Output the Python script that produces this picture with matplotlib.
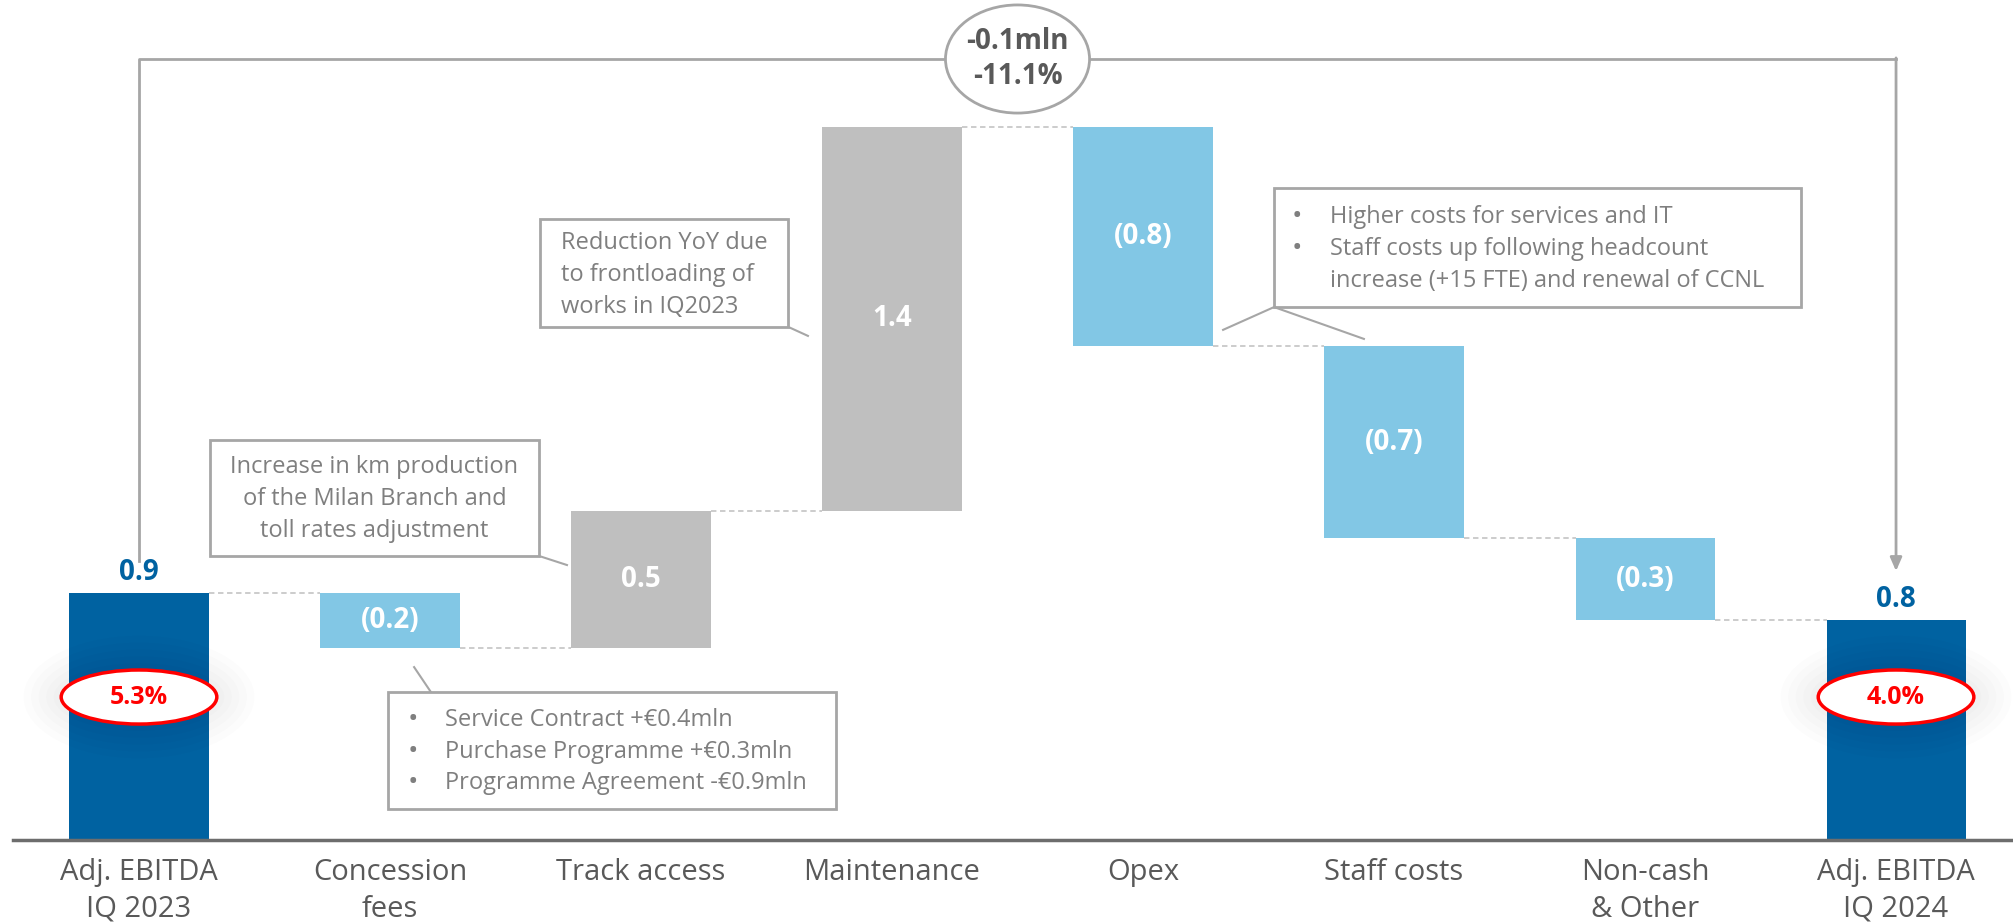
import matplotlib
matplotlib.use("Agg")
import matplotlib.pyplot as plt
from matplotlib.patches import Ellipse, Rectangle

plt.rcParams['font.family'] = ['Open Sans', 'DejaVu Sans']

# data
categories = ["Adj. EBITDA\nIQ 2023", "Concession\nfees", "Track access", "Maintenance",
              "Opex", "Staff costs", "Non-cash\n& Other", "Adj. EBITDA\nIQ 2024"]
start_value = 0.9
deltas = [-0.2, 0.5, 1.4, -0.8, -0.7, -0.3]
end_value = 0.8
margins = ["5.3%", "4.0%"]
change_text = "-0.1mln\n-11.1%"

DARK_BLUE = "#0062a1"
LIGHT_BLUE = "#82c7e5"
GREY = "#bfbfbf"
LINE_GREY = "#a6a6a6"
TEXT_GREY = "#7f7f7f"
LABEL_GREY = "#595959"

W, H = 2013, 922
fig = plt.figure(figsize=(W / 100, H / 100), dpi=100)
ax = fig.add_axes([13 / W, 82 / H, 2000 / W, 840 / H])
ax.set_xlim(-0.502, 7.466)
ax.set_ylim(0, 3.061)
for s in ["top", "right", "left"]:
    ax.spines[s].set_visible(False)
ax.spines["bottom"].set_color("#6d6d6d")
ax.spines["bottom"].set_linewidth(2.5)
ax.set_yticks([])
ax.set_xticks(range(len(categories)))
ax.set_xticklabels(categories, fontsize=21, color=LABEL_GREY, linespacing=1.35)
ax.tick_params(axis="x", length=0, pad=13)

bw = 0.554

# bars
levels = [start_value]
ax.bar(0, start_value, width=bw, color=DARK_BLUE)
running = start_value
for i, d in enumerate(deltas, start=1):
    bottom = running if d > 0 else running + d
    col = GREY if d > 0 else LIGHT_BLUE
    ax.bar(i, abs(d), bottom=bottom, width=bw, color=col)
    txt = f"{d:.1f}" if d > 0 else f"({abs(d):.1f})"
    ax.text(i, bottom + abs(d) / 2, txt, ha="center", va="center", color="white",
            fontsize=20, fontweight="bold")
    running += d
    levels.append(running)
n = len(categories) - 1
ax.bar(n, end_value, width=bw, color=DARK_BLUE)
levels.append(end_value)

# connectors
for i in range(n):
    ax.plot([i + bw / 2, i + 1 - bw / 2], [levels[i], levels[i]], color="#c8c8c8",
            lw=1.3, ls=(0, (3, 2)), zorder=1)

# totals above
for i, v in [(0, start_value), (n, end_value)]:
    ax.text(i, v + 0.075, f"{v:.1f}", ha="center", va="center", color=DARK_BLUE,
            fontsize=20, fontweight="bold")

# margin ellipses
for i, m in zip([0, n], margins):
    for k in range(6):
        ax.add_patch(Ellipse((i, 0.521), 0.62 + 0.06 * k, 0.197 + 0.05 * k,
                             facecolor="#000000", alpha=0.01, lw=0, zorder=3))
    ax.add_patch(Ellipse((i, 0.521), 0.62, 0.197, facecolor="white",
                         edgecolor="#ff0000", lw=2.5, zorder=4))
    ax.text(i, 0.521, m, ha="center", va="center", color="#ff0000",
            fontsize=18, fontweight="bold", zorder=5)

# top bracket with overall change
top_y = 2.846
ax.plot([0, 0, n], [1.017, top_y, top_y], color=LINE_GREY, lw=2, zorder=2)
ax.annotate("", xy=(n, 0.98), xytext=(n, top_y + 0.004),
            arrowprops=dict(arrowstyle="-|>,head_length=0.8,head_width=0.35",
                            color=LINE_GREY, lw=2, shrinkA=0, shrinkB=0))
ax.add_patch(Ellipse((3.5, top_y), 0.574, 0.394, facecolor="white",
                     edgecolor=LINE_GREY, lw=2, zorder=4))
ax.text(3.5, top_y, change_text, ha="center", va="center", color=LABEL_GREY,
        fontsize=20, fontweight="bold", linespacing=1.3, zorder=5)


def box(x0, x1, y0, y1):
    ax.add_patch(Rectangle((x0, y0), x1 - x0, y1 - y0, facecolor="white",
                           edgecolor=LINE_GREY, lw=2, zorder=4))


# callout: track access
box(0.283, 1.594, 1.035, 1.458)
ax.plot([1.594, 1.705], [1.035, 1.002], color=LINE_GREY, lw=1.5)
for y, t in zip([1.359, 1.243, 1.126], ["Increase in km production",
                                         "of the Milan Branch and",
                                         "toll rates adjustment"]):
    ax.text(0.938, y, t, ha="center", va="center", color=TEXT_GREY, fontsize=17, zorder=5)

# callout: concession fees
box(0.992, 2.777, 0.113, 0.539)
ax.plot([1.096, 1.163], [0.630, 0.539], color=LINE_GREY, lw=1.5)
for y, t in zip([0.437, 0.321, 0.208], ["Service Contract +€0.4mln",
                                         "Purchase Programme +€0.3mln",
                                         "Programme Agreement -€0.9mln"]):
    ax.text(1.092, y, "•", ha="center", va="center", color=TEXT_GREY, fontsize=20, zorder=5)
    ax.text(1.219, y, t, ha="left", va="center", color=TEXT_GREY, fontsize=17, zorder=5)

# callout: maintenance
box(1.598, 2.586, 1.870, 2.263)
ax.plot([2.586, 2.665], [1.870, 1.837], color=LINE_GREY, lw=1.5)
for y, t in zip([2.176, 2.059, 1.942], ["Reduction YoY due", "to frontloading of",
                                         "works in IQ2023"]):
    ax.text(1.681, y, t, ha="left", va="center", color=TEXT_GREY, fontsize=17, zorder=5)

# callout: opex / staff costs
box(4.522, 6.622, 1.942, 2.376)
ax.plot([4.319, 4.522, 4.880], [1.859, 1.942, 1.826], color=LINE_GREY, lw=1.5, zorder=5)
rows = [("•", "Higher costs for services and IT"),
        ("•", "Staff costs up following headcount"),
        ("", "increase (+15 FTE) and renewal of CCNL")]
for y, (b, t) in zip([2.270, 2.154, 2.037], rows):
    ax.text(4.614, y, b, ha="center", va="center", color=TEXT_GREY, fontsize=20, zorder=5)
    ax.text(4.745, y, t, ha="left", va="center", color=TEXT_GREY, fontsize=17, zorder=5)

fig.savefig("out.png", dpi=100)
